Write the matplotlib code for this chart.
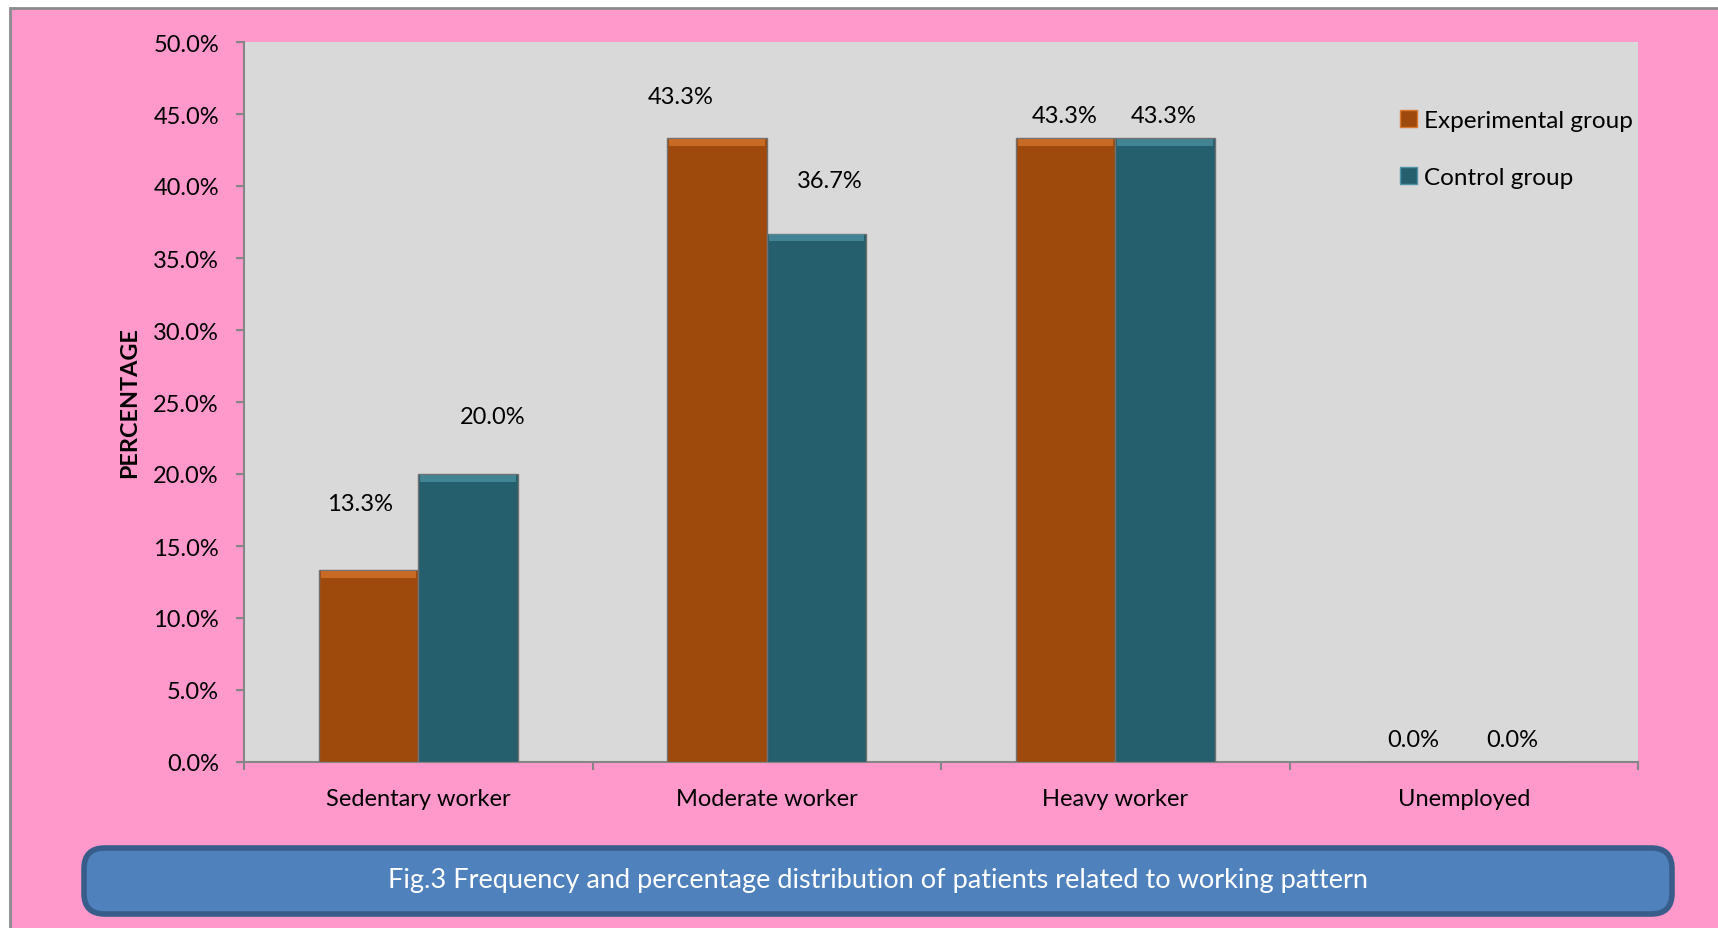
import numpy as np
import matplotlib
matplotlib.use("Agg")
import matplotlib.pyplot as plt
from matplotlib.patches import Rectangle, FancyBboxPatch, Patch
from matplotlib.ticker import FuncFormatter, MultipleLocator

plt.rcParams['font.family'] = ['Lato', 'DejaVu Sans']

# ===== DATA =====
categories = ["Sedentary worker", "Moderate worker", "Heavy worker", "Unemployed"]
experimental = [13.3, 43.3, 43.3, 0.0]
control = [20.0, 36.7, 43.3, 0.0]
series_names = ["Experimental group", "Control group"]
caption = "Fig.3 Frequency and percentage distribution of patients related to working pattern"

# label offsets (pixels) relative to top-centre of each bar: (dx, dy)
exp_label_off = [(-9, 67), (-36, 42), (-1, 23), (-1, 22)]
ctl_label_off = [(25, 57), (13, 53), (-1, 23), (-1, 22)]

# ===== STYLE =====
PINK = "#FF99CC"
PLOT_BG = "#D9D9D9"
ORANGE = "#9E4A0C"
ORANGE_HI = "#D9782F"
TEAL = "#255F6E"
TEAL_HI = "#4F93A5"
AXIS_GRAY = "#868686"
FS = 17

W, H, DPI = 1718, 929, 100
fig = plt.figure(figsize=(W / DPI, H / DPI), dpi=DPI)
fig.patch.set_facecolor("white")

# pink outer frame
fig.patches.append(Rectangle((10 / W, -0.05), 1.2, 1 - 9 / H + 0.05, transform=fig.transFigure,
                             facecolor=PINK, edgecolor="#8C8C8C", linewidth=2, zorder=-10))

ax = fig.add_axes([244 / W, 1 - 763 / H, (1638 - 244) / W, (763 - 43) / H])
ax.set_facecolor(PLOT_BG)
ax.set_zorder(1)

x = np.arange(len(categories))
bw = 0.285
px_per_unit = (763 - 43) / 50.0
hi_h = 7 / px_per_unit

for vals, off, col, hi in [(experimental, -bw / 2, ORANGE, ORANGE_HI),
                           (control, bw / 2, TEAL, TEAL_HI)]:
    ax.bar(x + off, vals, bw, color=col, edgecolor="#707070", linewidth=1.0, zorder=3)
    # bevel highlight on top edge
    v = np.array(vals)
    mask = v > 0
    ax.bar((x + off)[mask], [hi_h] * mask.sum(), bw * 0.96,
           bottom=v[mask] - hi_h * 1.1, color=hi, linewidth=0, zorder=4, alpha=0.7)

# value labels
def add_labels(vals, off, offsets):
    for i, v in enumerate(vals):
        dx, dy = offsets[i]
        ax.annotate(f"{v:.1f}%", (x[i] + off, v), xytext=(dx * 0.72, dy * 0.72),
                    textcoords="offset points", ha="center", va="center",
                    fontsize=FS, color="black", zorder=5)

add_labels(experimental, -bw / 2, exp_label_off)
add_labels(control, bw / 2, ctl_label_off)

ax.set_xlim(-0.5, len(categories) - 0.5)
ax.set_ylim(0, 50)
ax.yaxis.set_major_locator(MultipleLocator(5))
ax.yaxis.set_major_formatter(FuncFormatter(lambda v, p: f"{v:.1f}%"))
ax.set_xticks(x)
ax.set_xticklabels(categories)
ax.set_xticks(np.arange(len(categories) + 1) - 0.5, minor=True)
ax.tick_params(axis="x", which="major", length=0, pad=19, labelsize=FS)
ax.tick_params(axis="x", which="minor", length=6, color=AXIS_GRAY, width=1.5)
ax.tick_params(axis="y", length=6, color=AXIS_GRAY, width=1.5, labelsize=FS, pad=12)

for s in ["top", "right"]:
    ax.spines[s].set_visible(False)
for s in ["left", "bottom"]:
    ax.spines[s].set_color(AXIS_GRAY)
    ax.spines[s].set_linewidth(1.5)

fig.text(130 / W, 1 - 403 / H, "PERCENTAGE", rotation=90, ha="center", va="center",
         fontsize=16.8, fontweight="bold")

handles = [Patch(facecolor=ORANGE, edgecolor=ORANGE_HI, linewidth=1),
           Patch(facecolor=TEAL, edgecolor=TEAL_HI, linewidth=1)]
leg = ax.legend(handles, series_names, loc="upper left", bbox_to_anchor=(1390 / W, 1 - 101 / H),
                bbox_transform=fig.transFigure, frameon=False, fontsize=17.5,
                handlelength=0.7, handleheight=0.7, handletextpad=0.3, labelspacing=1.5,
                borderaxespad=0)

# caption box
box = FancyBboxPatch((84 / W, 1 - 915 / H), (1672 - 84) / W, (915 - 849) / H,
                     boxstyle="round,pad=0,rounding_size=0.012", transform=fig.transFigure,
                     facecolor="#4F81BD", edgecolor="#385D8A", linewidth=4, zorder=2,
                     mutation_aspect=W / H)
fig.patches.append(box)
fig.text((84 + 1672) / 2 / W, 1 - 881 / H, caption, ha="center", va="center",
         color="white", fontsize=19.5, zorder=3)

fig.savefig("out.png", dpi=DPI, facecolor=fig.get_facecolor())
